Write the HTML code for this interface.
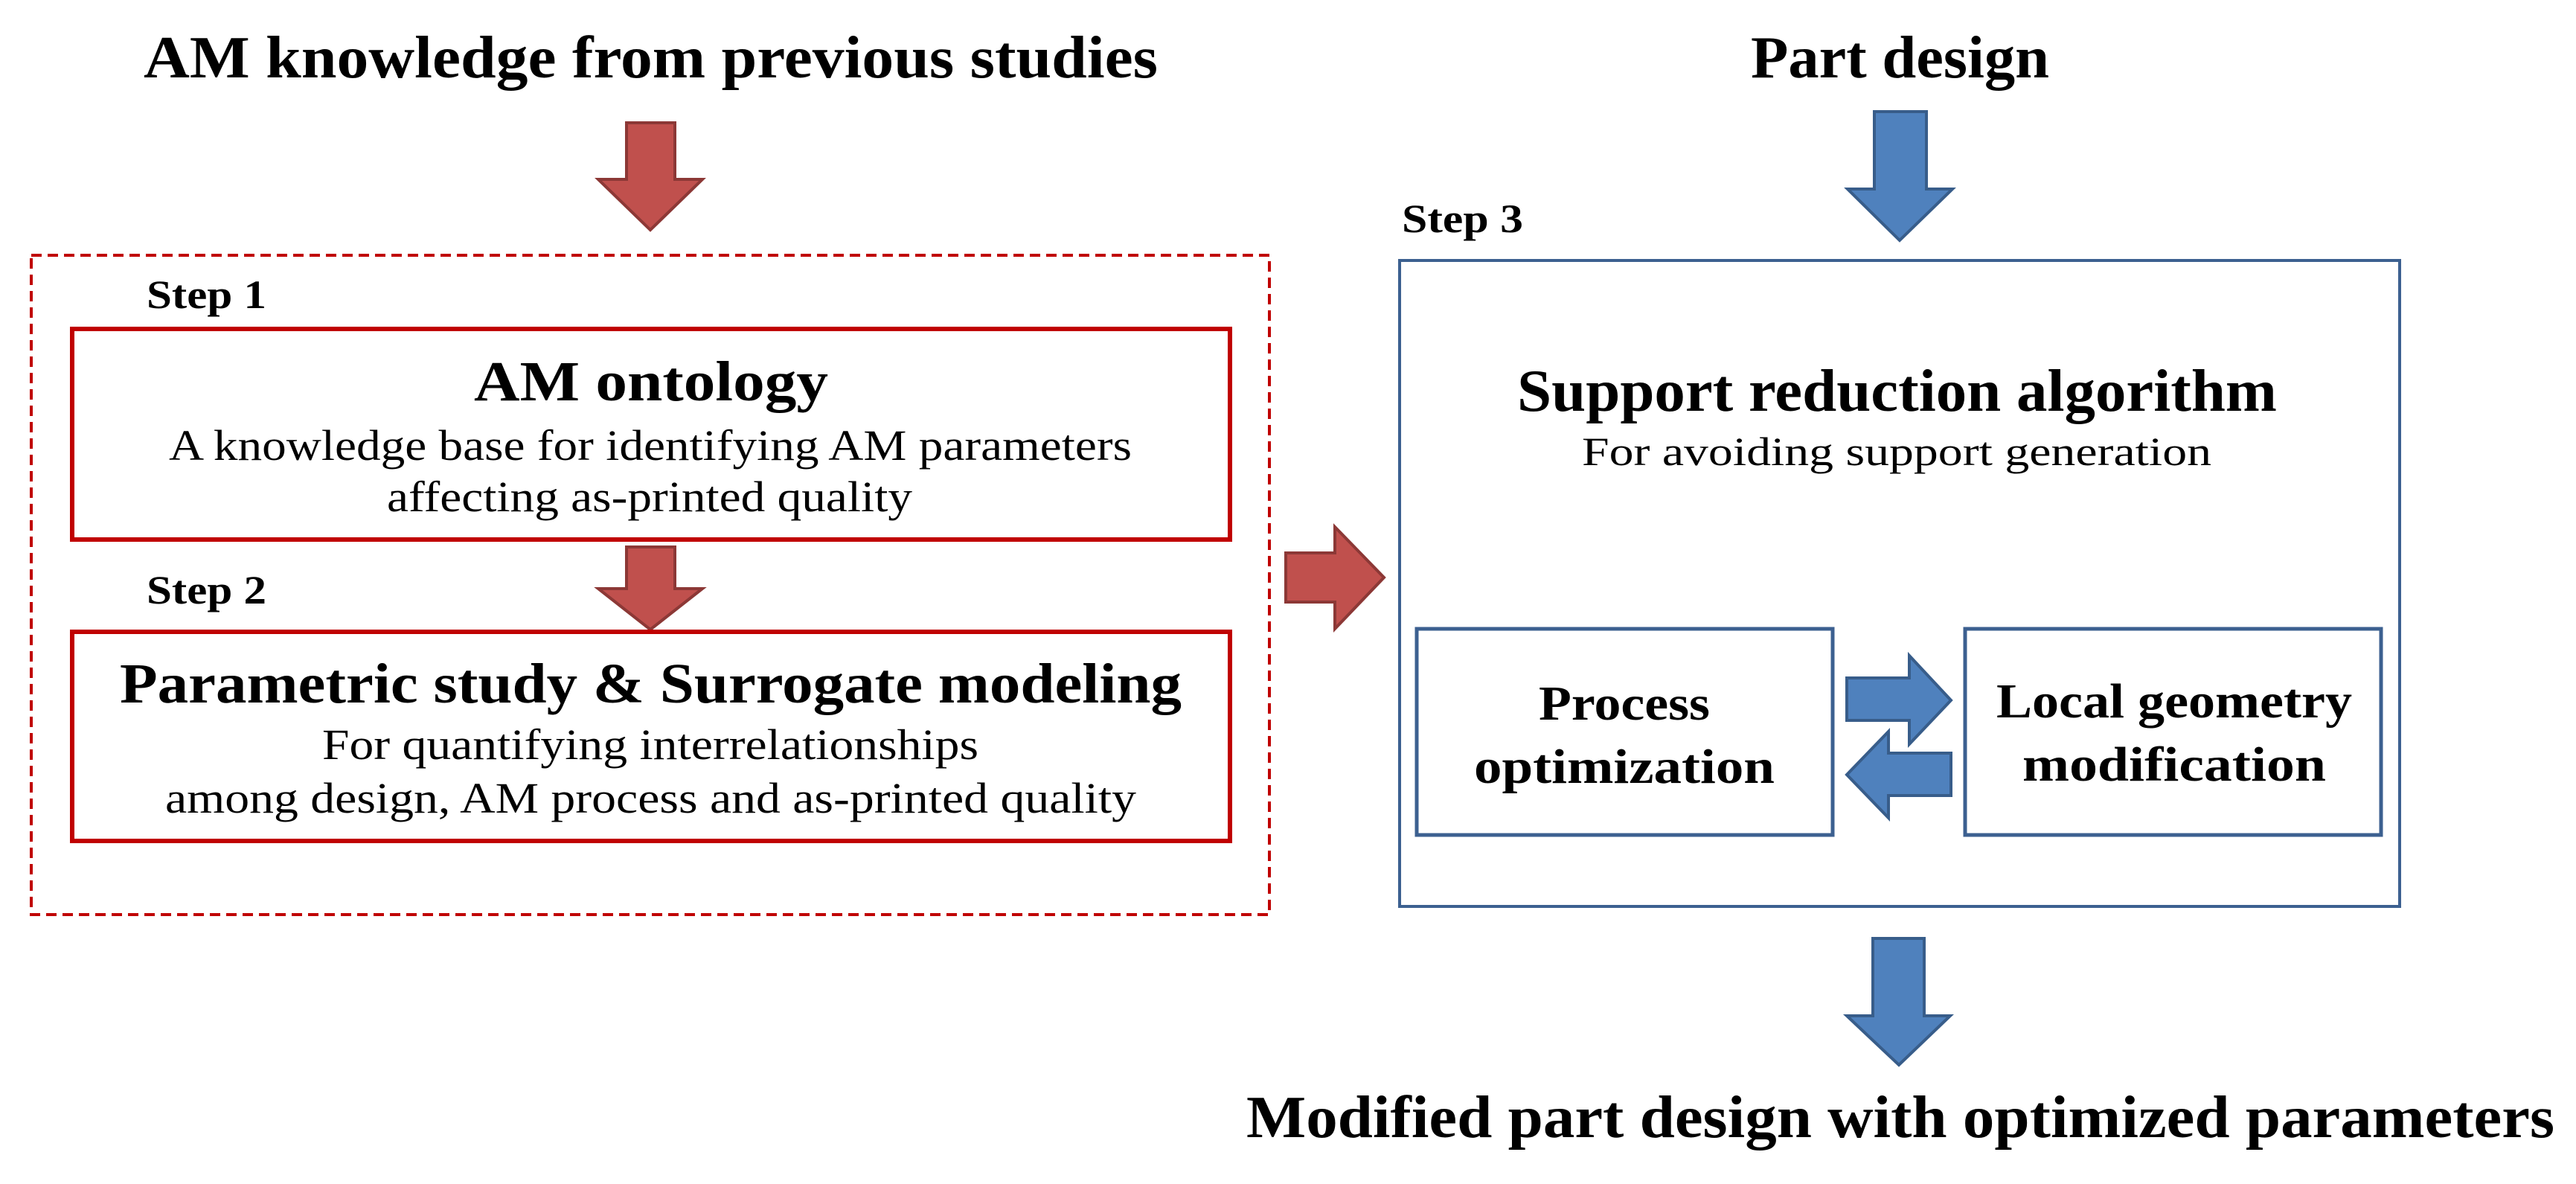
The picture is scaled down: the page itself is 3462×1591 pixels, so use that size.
<!DOCTYPE html>
<html><head><meta charset="utf-8"><style>html,body{margin:0;padding:0;background:#fff;}svg{display:block}</style></head>
<body>
<svg width="3462" height="1591" viewBox="0 0 3462 1591" xmlns="http://www.w3.org/2000/svg" font-family="'Liberation Serif', serif">
<rect width="3462" height="1591" fill="#fff"/>
<g font-weight="bold" fill="#000">
<text x="193" y="104" font-size="80" textLength="1363" lengthAdjust="spacingAndGlyphs">AM knowledge from previous studies</text>
<text x="2353" y="104" font-size="80" textLength="401" lengthAdjust="spacingAndGlyphs">Part design</text>
<text x="1675" y="1528" font-size="80" textLength="1758" lengthAdjust="spacingAndGlyphs">Modified part design with optimized parameters</text>
<text x="197" y="414" font-size="54" textLength="161" lengthAdjust="spacingAndGlyphs">Step 1</text>
<text x="197" y="811" font-size="54" textLength="161" lengthAdjust="spacingAndGlyphs">Step 2</text>
<text x="1884" y="312" font-size="54" textLength="163" lengthAdjust="spacingAndGlyphs">Step 3</text>
</g>
<!-- red top arrow -->
<polygon points="842,165 907,165 907,241 944,241 874,309 804,241 842,241" fill="#c0504d" stroke="#8c3836" stroke-width="4"/>
<!-- dashed box -->
<rect x="42" y="343" width="1664" height="886" fill="none" stroke="#c00000" stroke-width="4" stroke-dasharray="14,8"/>
<!-- box1 -->
<rect x="97" y="442" width="1556" height="283" fill="#fff" stroke="#c00000" stroke-width="6"/>
<text x="875" y="538" font-size="76" font-weight="bold" text-anchor="middle" textLength="476" lengthAdjust="spacingAndGlyphs">AM ontology</text>
<text x="227" y="618" font-size="58" textLength="1294" lengthAdjust="spacingAndGlyphs">A knowledge base for identifying AM parameters</text>
<text x="520" y="687" font-size="58" textLength="706" lengthAdjust="spacingAndGlyphs">affecting as-printed quality</text>
<!-- mid arrow -->
<polygon points="842,735 907,735 907,791 944,791 874,846 804,791 842,791" fill="#c0504d" stroke="#8c3836" stroke-width="4"/>
<!-- box2 -->
<rect x="97" y="849" width="1556" height="281" fill="#fff" stroke="#c00000" stroke-width="6"/>
<text x="161" y="944" font-size="76" font-weight="bold" textLength="1427" lengthAdjust="spacingAndGlyphs">Parametric study &amp; Surrogate modeling</text>
<text x="433" y="1020" font-size="58" textLength="882" lengthAdjust="spacingAndGlyphs">For quantifying interrelationships</text>
<text x="222" y="1092" font-size="58" textLength="1305" lengthAdjust="spacingAndGlyphs">among design, AM process and as-printed quality</text>
<!-- red right arrow -->
<polygon points="1728,743 1794,743 1794,708 1860,776 1794,845 1794,809 1728,809" fill="#c0504d" stroke="#8c3836" stroke-width="4"/>
<!-- blue top arrow -->
<polygon points="2519,150 2589,150 2589,254 2624,254 2553,323 2483,254 2519,254" fill="#4f81bd" stroke="#385d8a" stroke-width="4"/>
<!-- big blue box -->
<rect x="1881" y="350" width="1344" height="868" fill="none" stroke="#3c6090" stroke-width="4"/>
<text x="2039" y="552" font-size="80" font-weight="bold" textLength="1021" lengthAdjust="spacingAndGlyphs">Support reduction algorithm</text>
<text x="2126" y="625" font-size="54" textLength="846" lengthAdjust="spacingAndGlyphs">For avoiding support generation</text>
<!-- process box -->
<rect x="1904" y="845" width="559" height="277" fill="#fff" stroke="#3c6090" stroke-width="5"/>
<text x="2183" y="967" font-size="66" font-weight="bold" text-anchor="middle" textLength="230" lengthAdjust="spacingAndGlyphs">Process</text>
<text x="2183" y="1052" font-size="66" font-weight="bold" text-anchor="middle" textLength="404" lengthAdjust="spacingAndGlyphs">optimization</text>
<!-- local box -->
<rect x="2641" y="845" width="559" height="277" fill="#fff" stroke="#3c6090" stroke-width="5"/>
<text x="2922" y="964" font-size="66" font-weight="bold" text-anchor="middle" textLength="478" lengthAdjust="spacingAndGlyphs">Local geometry</text>
<text x="2922" y="1049" font-size="66" font-weight="bold" text-anchor="middle" textLength="408" lengthAdjust="spacingAndGlyphs">modification</text>
<!-- exchange arrows -->
<polygon points="2482,911 2566,911 2566,881 2622,941 2566,1000 2566,968 2482,968" fill="#4f81bd" stroke="#385d8a" stroke-width="4"/>
<polygon points="2622,1012 2538,1012 2538,983 2482,1041 2538,1099 2538,1069 2622,1069" fill="#4f81bd" stroke="#385d8a" stroke-width="4"/>
<!-- blue bottom arrow -->
<polygon points="2517,1261 2586,1261 2586,1365 2621,1365 2552,1431 2482,1365 2517,1365" fill="#4f81bd" stroke="#385d8a" stroke-width="4"/>
</svg>
</body></html>
